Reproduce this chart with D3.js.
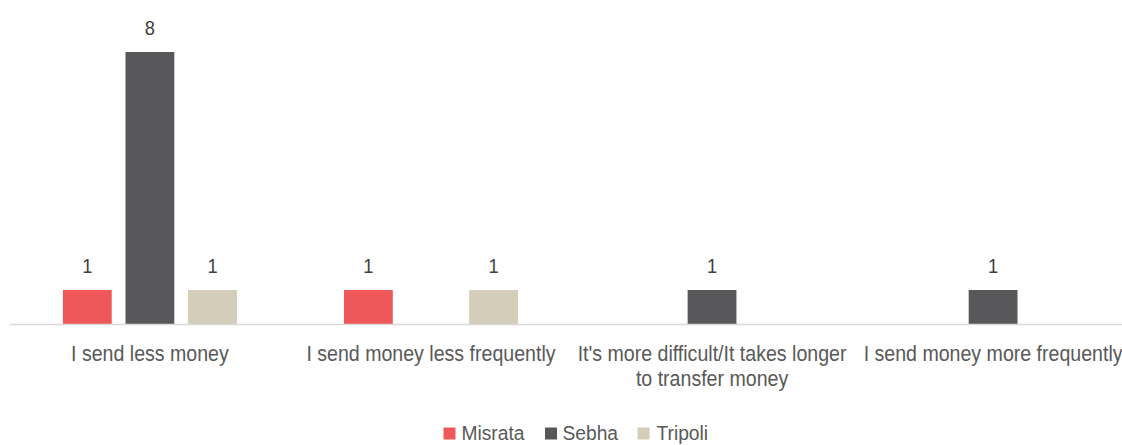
<!DOCTYPE html>
<html>
<head>
<meta charset="utf-8">
<script src="https://cdn.jsdelivr.net/npm/d3@7"></script>
<style>
  html, body { margin: 0; padding: 0; background: #ffffff; overflow: hidden; }
  svg { display: block; }
  text { font-family: "Liberation Sans", Arial, sans-serif; }
</style>
</head>
<body>
<svg id="chart" width="1122" height="445"></svg>
<script>
// Reasons given for the change in remittances, by city
const categories = [
  "I send less money",
  "I send money less frequently",
  "It's more difficult/It takes longer to transfer money",
  "I send money more frequently"
];
const seriesNames = ["Misrata", "Sebha", "Tripoli"];
const misrata = [1, 1, null, null];
const sebha   = [8, null, 1, 1];
const tripoli = [1, 1, null, null];
const seriesColors = ["#ef5859", "#58585a", "#d3cdb9"];

const values = { Misrata: misrata, Sebha: sebha, Tripoli: tripoli };

const svg = d3.select("#chart");
const W = 1122;
const narrow = "scale(0.915,1)";   // condensed look for all labels

const x0 = d3.scaleBand()
  .domain(categories)
  .range([9.5, 1133.5])
  .paddingInner(0.381)
  .paddingOuter(0.19);

const x1 = d3.scaleBand()
  .domain(seriesNames)
  .range([0, x0.bandwidth()])
  .paddingInner(0.22)
  .paddingOuter(0);

const y = d3.scaleLinear().domain([0, 8]).range([324, 52]);

const color = d3.scaleOrdinal().domain(seriesNames).range(seriesColors);

// flatten into drawable records, skipping empty cells
const rows = [];
categories.forEach((c, i) => {
  seriesNames.forEach(s => {
    const v = values[s][i];
    if (v !== null && v !== undefined) rows.push({ category: c, series: s, value: v });
  });
});

// bars
svg.append("g").selectAll("rect")
  .data(rows)
  .join("rect")
  .attr("x", d => x0(d.category) + x1(d.series))
  .attr("y", d => y(d.value))
  .attr("width", x1.bandwidth())
  .attr("height", d => y(0) - y(d.value))
  .attr("fill", d => color(d.series));

// value labels
svg.append("g").selectAll("g")
  .data(rows)
  .join("g")
  .attr("transform", d => `translate(${x0(d.category) + x1(d.series) + x1.bandwidth() / 2},${y(d.value) - 17}) ${narrow}`)
  .append("text")
  .attr("text-anchor", "middle")
  .attr("font-size", 20)
  .attr("fill", "#404040")
  .text(d => d.value);

// category axis
const xAxis = d3.axisBottom(x0).tickSize(0).tickPadding(0);
const axisG = svg.append("g").attr("transform", `translate(0,${y(0)})`).call(xAxis);
axisG.select(".domain").remove();
axisG.append("line")
  .attr("x1", 9.5).attr("x2", W)
  .attr("y1", 0.5).attr("y2", 0.5)
  .attr("stroke", "#d9d9d9").attr("stroke-width", 1.5);

// break the long category label into two lines
axisG.selectAll(".tick text").each(function(d) {
  const t = d3.select(this);
  t.text(null)
    .attr("font-size", 21.4)
    .attr("fill", "#595959")
    .attr("font-family", null)
    .attr("dy", null)
    .attr("y", 37)
    .attr("transform", narrow);
  const lines = d === "It's more difficult/It takes longer to transfer money"
    ? ["It's more difficult/It takes longer", "to transfer money"]
    : [d];
  lines.forEach((ln, i) => {
    t.append("tspan").attr("x", 0).attr("dy", i === 0 ? 0 : 25).text(ln);
  });
});

// legend
const legendItems = [
  { name: "Misrata", sx: 443.5, tx: 461.5 },
  { name: "Sebha", sx: 545, tx: 562.5 },
  { name: "Tripoli", sx: 637.5, tx: 656.5 }
];
const lg = svg.append("g");
lg.selectAll("rect")
  .data(legendItems)
  .join("rect")
  .attr("x", d => d.sx).attr("y", 427.5)
  .attr("width", 12).attr("height", 12)
  .attr("fill", d => color(d.name));
lg.selectAll("g")
  .data(legendItems)
  .join("g")
  .attr("transform", d => `translate(${d.tx},440) ${narrow}`)
  .append("text")
  .attr("font-size", 21)
  .attr("fill", "#595959")
  .text(d => d.name);
</script>
</body>
</html>
